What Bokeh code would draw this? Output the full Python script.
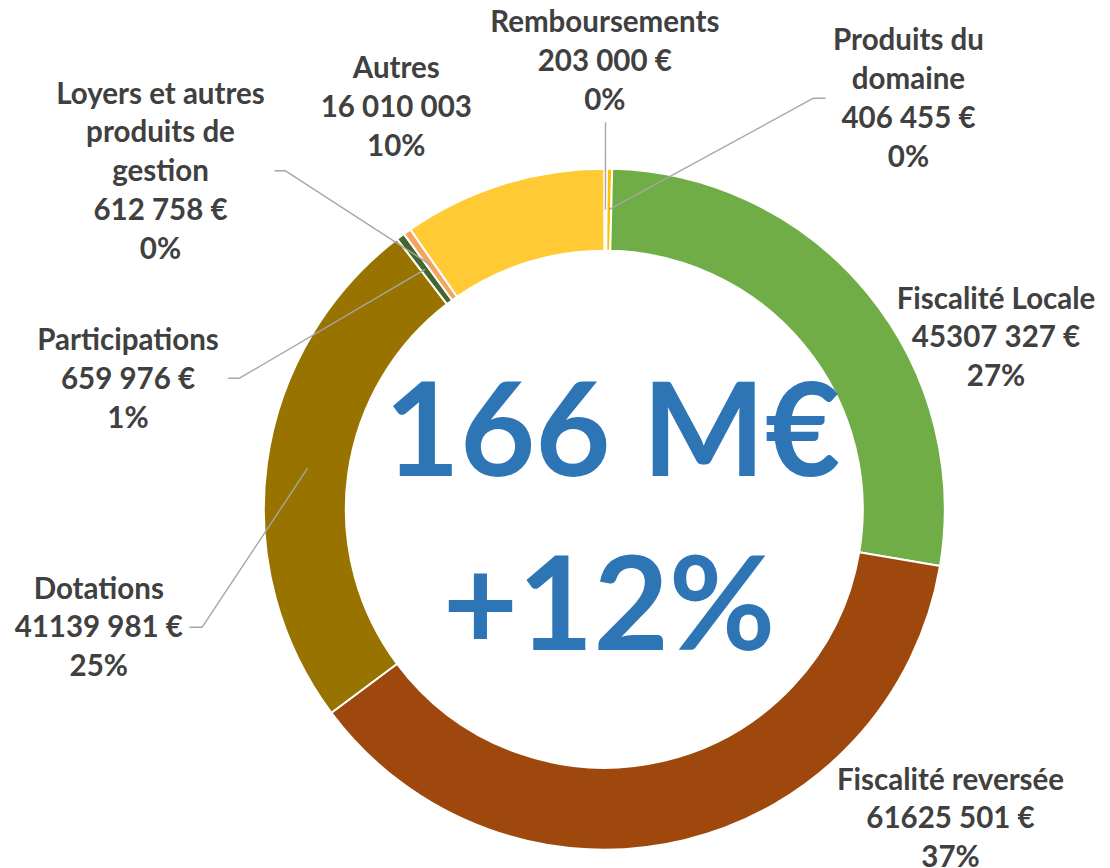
import math
from bokeh.plotting import figure
from bokeh.models import Range1d, ColumnDataSource
from bokeh.core.properties import value
from bokeh.embed import file_html
from bokeh.resources import INLINE

# ---------------- data ----------------
categories = ["Remboursements", "Produits du domaine", "Fiscalité Locale",
              "Fiscalité reversée", "Dotations", "Participations",
              "Loyers et autres produits de gestion", "Autres"]
amounts = [203000, 406455, 45307327, 61625501, 41139981, 659976, 612758, 16010003]
label_names = [["Remboursements"], ["Produits du", "domaine"], ["Fiscalité Locale"],
               ["Fiscalité reversée"], ["Dotations"], ["Participations"],
               ["Loyers et autres", "produits de", "gestion"], ["Autres"]]
amount_labels = ["203 000 €", "406 455 €", "45307 327 €", "61625 501 €",
                 "41139 981 €", "659 976 €", "612 758 €", "16 010 003"]
percent_labels = ["0%", "0%", "27%", "37%", "25%", "1%", "0%", "10%"]
total_label = "166 M€"
growth_label = "+12%"

# ---------------- styles / positions ----------------
colors = ["#FFD966", "#FFC000", "#70AD47", "#9E480E", "#997300", "#43682B", "#F4A460", "#FFCA33"]
TEXT_COLOR = "#404040"
CENTER_COLOR = "#2E75B6"
FONT = "Lato"
LABEL_SIZE = 29.5
CENTER_SIZE = 130
BASE_FIX = 0.4  # baseline correction, in em

W, H = 1110, 868
def Y(ys):  # page y (px from top) -> data y
    return H - ys

CX, CY = 603.8, Y(508.7)
R_OUT, R_IN = 340.5, 258.5
R_MID = (R_OUT + R_IN) / 2

label_pos = [(604.3, 31.7), (908, 50.0), (995.5, 308.3), (950, 789.3),
             (98.3, 598.3), (127.5, 350.0), (160, 103.3), (395.8, 77.7)]
LINE_H = 38.8
leader_stubs = [[(605, 121.7)], [(825, 97.7), (813, 97.7)], None, None,
                [(189, 626.7), (201.7, 626.7)], [(227.7, 377.7), (239, 377.7)],
                [(274, 170.3), (285, 170.3)], None]

p = figure(width=W, height=H, output_backend="svg", toolbar_location=None,
           x_range=Range1d(0, W), y_range=Range1d(0, H),
           min_border=0, x_axis_type=None, y_axis_type=None)
p.grid.visible = False
p.outline_line_color = None
p.background_fill_color = "white"
p.border_fill_color = "white"

# ---------------- donut slices ----------------
total = float(sum(amounts))
starts, ends, mids = [], [], []
cum = 0.0
for a in amounts:
    t0 = cum / total * 2 * math.pi
    cum += a
    t1 = cum / total * 2 * math.pi
    starts.append(math.pi / 2 - t0)
    ends.append(math.pi / 2 - t1)
    mids.append(math.pi / 2 - (t0 + t1) / 2)

src = ColumnDataSource(dict(x=[CX] * len(amounts), y=[CY] * len(amounts),
                            start=starts, end=ends, color=colors, name=categories))
p.annular_wedge(x="x", y="y", inner_radius=R_IN, outer_radius=R_OUT,
                start_angle="start", end_angle="end", direction="clock",
                fill_color="color", line_color="white", line_width=2, source=src)

# ---------------- leader lines ----------------
lxs, lys = [], []
for i, stubs in enumerate(leader_stubs):
    if stubs is None:
        continue
    xs = [s[0] for s in stubs] + [CX + R_MID * math.cos(mids[i])]
    ys = [Y(s[1]) for s in stubs] + [CY + R_MID * math.sin(mids[i])]
    lxs.append(xs)
    lys.append(ys)
p.multi_line(xs=lxs, ys=lys, line_color="#A6A6A6", line_width=1.4)

# ---------------- data labels ----------------
tx, ty, tt = [], [], []
for i in range(len(categories)):
    lines = label_names[i] + [amount_labels[i], percent_labels[i]]
    x0, y0 = label_pos[i]
    for k, s in enumerate(lines):
        tx.append(x0)
        ty.append(Y(y0 + k * LINE_H - BASE_FIX * LABEL_SIZE))
        tt.append(s)
p.text(x=tx, y=ty, text=tt, text_align="center", text_baseline="alphabetic",
       text_font=value(FONT), text_font_style="bold", text_font_size=f"{LABEL_SIZE}px",
       text_color=TEXT_COLOR)

# ---------------- centre texts ----------------
p.text(x=[612, 608.5],
       y=[Y(477 - BASE_FIX * CENTER_SIZE), Y(651 - BASE_FIX * CENTER_SIZE)],
       text=[total_label, growth_label],
       text_align="center", text_baseline="alphabetic",
       text_font=value(FONT), text_font_style="bold", text_font_size=f"{CENTER_SIZE}px",
       text_color=CENTER_COLOR)

open("out.html", "w").write(file_html(p, INLINE))
